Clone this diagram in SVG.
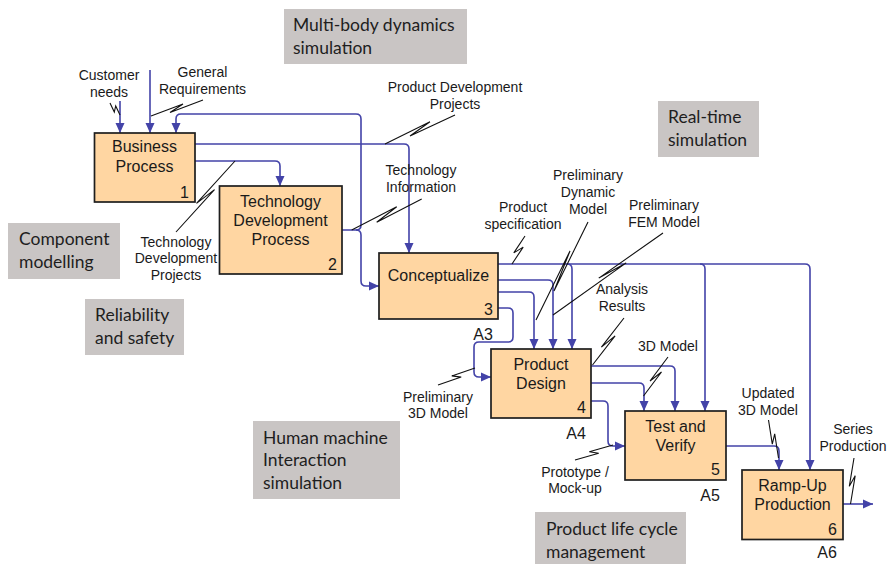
<svg xmlns="http://www.w3.org/2000/svg" width="887" height="564" viewBox="0 0 887 564">
  <defs>
    <marker id="ah" markerUnits="userSpaceOnUse" markerWidth="10" markerHeight="10" refX="10" refY="5" orient="auto" viewBox="0 0 10 10">
      <path d="M0,0.5 L10,5 L0,9.5 z" fill="#4343A8"/>
    </marker>
    <style>
      .box { fill:#FFD6A2; stroke:#1e1e1e; stroke-width:1.7; }
      .nt { font-family:"Liberation Sans", Arial, sans-serif; font-size:16px; fill:#1a1a1a; text-anchor:middle; }
      .num { font-family:"Liberation Sans", Arial, sans-serif; font-size:16px; fill:#1a1a1a; text-anchor:end; }
      .ref { font-family:"Liberation Sans", Arial, sans-serif; font-size:16px; fill:#1a1a1a; text-anchor:middle; }
      .lbl { font-family:"Liberation Sans", Arial, sans-serif; font-size:14px; fill:#1a1a1a; text-anchor:middle; }
      .gbox { fill:#C9C5C4; }
      .gt { font-family:Lato, "Open Sans", sans-serif; font-size:17.5px; fill:#1e1e1e; }
      .flow { fill:none; stroke:#4343A8; stroke-width:1.6; }
      .arr { marker-end:url(#ah); }
      .sq { fill:none; stroke:#111; stroke-width:1.1; }
    </style>
  </defs>
  <rect width="887" height="564" fill="#ffffff"/>

  <!-- grey tool annotations -->
  <g id="tool-mbd">
    <rect class="gbox" x="284" y="9" width="183" height="55"/>
    <text class="gt" x="293" y="30.5">Multi-body dynamics</text>
    <text class="gt" x="293" y="53.5">simulation</text>
  </g>
  <g id="tool-realtime">
    <rect class="gbox" x="658" y="101" width="101" height="56"/>
    <text class="gt" x="668" y="123">Real-time</text>
    <text class="gt" x="668" y="146">simulation</text>
  </g>
  <g id="tool-component">
    <rect class="gbox" x="8" y="223" width="112" height="56"/>
    <text class="gt" x="19" y="245">Component</text>
    <text class="gt" x="19" y="268">modelling</text>
  </g>
  <g id="tool-reliability">
    <rect class="gbox" x="85" y="299" width="99" height="56"/>
    <text class="gt" x="95" y="321">Reliability</text>
    <text class="gt" x="95" y="343.5">and safety</text>
  </g>
  <g id="tool-hmi">
    <rect class="gbox" x="253" y="421" width="147" height="78"/>
    <text class="gt" x="263" y="443.5">Human machine</text>
    <text class="gt" x="263" y="466">Interaction</text>
    <text class="gt" x="263" y="488.5">simulation</text>
  </g>
  <g id="tool-plm">
    <rect class="gbox" x="535" y="512" width="151" height="52"/>
    <text class="gt" x="546" y="535">Product life cycle</text>
    <text class="gt" x="546" y="557.5">management</text>
  </g>

  <!-- connectors -->
  <g id="connectors">
    <!-- inputs to Business Process -->
    <path class="flow arr" d="M120,101 V133"/>
    <path class="flow arr" d="M150,70 V133"/>
    <!-- Technology Development Process output, fed back up and forward -->
    <path class="flow" d="M342,230 H356 Q361,230 361,225"/>
    <path class="flow" d="M356,230 Q361,230 361,235"/>
    <path class="flow arr" d="M361,225 V119 Q361,114 356,114 H181 Q176,114 176,119 V133"/>
    <path class="flow arr" d="M361,235 V281 Q361,286 366,286 H379"/>
    <!-- Business Process outputs -->
    <path class="flow arr" d="M195,144 H404 Q409,144 409,149 V253"/>
    <path class="flow arr" d="M195,161 H275 Q280,161 280,166 V186"/>
    <!-- Conceptualize outputs -->
    <path class="flow arr" d="M498,264 H805 Q810,264 810,269 V470"/>
    <path class="flow arr" d="M567,264 Q572,264 572,269 V349"/>
    <path class="flow arr" d="M700,264 Q705,264 705,269 V411"/>
    <path class="flow arr" d="M498,280 H548 Q553,280 553,285 V349"/>
    <path class="flow arr" d="M498,292 H529 Q534,292 534,297 V349"/>
    <path class="flow arr" d="M498,308 H508 Q513,308 513,313 V337 Q513,342 508,342 H479 Q474,342 474,347 V372 Q474,377 479,377 H491"/>
    <!-- Product Design outputs -->
    <path class="flow arr" d="M591,366 H670 Q675,366 675,371 V411"/>
    <path class="flow arr" d="M591,383 H639 Q644,383 644,388 V411"/>
    <path class="flow arr" d="M591,401 H603 Q608,401 608,406 V441 Q608,446 613,446 H625"/>
    <!-- Test and Verify output -->
    <path class="flow arr" d="M726,446 H774 Q779,446 779,451 V470"/>
    <!-- Ramp-Up output -->
    <path class="flow arr" d="M843,504 H873"/>

    <!-- label squiggles -->
    <path class="sq" d="M110,103 L114.3,112 L115.7,106 L120,115"/>
    <path class="sq" d="M203,100 L170,112.5 L183,104 L151,116"/>
    <path class="sq" d="M176,232 L214.5,189.6 L196.5,203.4 L235,161"/>
    <path class="sq" d="M455,115 L410,136 L430,121.7 L385,144"/>
    <path class="sq" d="M421.7,199 L376.7,222.3 L396.7,206.7 L351.7,230"/>
    <path class="sq" d="M525,236 L513.8,252.9 L523.2,247.1 L512,264"/>
    <path class="sq" d="M588,222 L554,291 L570,251 L536,320"/>
    <path class="sq" d="M663,233 L598.8,278.1 L626.2,262.9 L553,315"/>
    <path class="sq" d="M624,318 L601.4,347.2 L615.1,335.9 L592.5,365"/>
    <path class="sq" d="M438,385 L461.2,377.1 L451.8,375.9 L475,368"/>
    <path class="sq" d="M668,357 L650,381 L661.5,372 L643.5,396"/>
    <path class="sq" d="M575,460 L598.7,453.3 L589.3,451.7 L613,445"/>
    <path class="sq" d="M768.5,420 L772.3,444.2 L774.7,433.8 L778.5,458"/>
    <path class="sq" d="M854,458 L849.3,486.3 L855.2,475.7 L850.5,504"/>
  </g>

  <!-- connector labels -->
  <g id="labels">
    <text class="lbl" x="109" y="80">Customer</text>
    <text class="lbl" x="109" y="97">needs</text>
    <text class="lbl" x="202.5" y="77">General</text>
    <text class="lbl" x="202.5" y="94">Requirements</text>
    <text class="lbl" x="455" y="92">Product Development</text>
    <text class="lbl" x="455" y="108.5">Projects</text>
    <text class="lbl" x="421" y="175">Technology</text>
    <text class="lbl" x="421" y="192">Information</text>
    <text class="lbl" x="176" y="246.5">Technology</text>
    <text class="lbl" x="176" y="263">Development</text>
    <text class="lbl" x="176" y="280">Projects</text>
    <text class="lbl" x="523" y="212">Product</text>
    <text class="lbl" x="523" y="229">specification</text>
    <text class="lbl" x="588" y="180">Preliminary</text>
    <text class="lbl" x="588" y="197">Dynamic</text>
    <text class="lbl" x="588" y="214">Model</text>
    <text class="lbl" x="664" y="210">Preliminary</text>
    <text class="lbl" x="664" y="227">FEM Model</text>
    <text class="lbl" x="622" y="294">Analysis</text>
    <text class="lbl" x="622" y="311">Results</text>
    <text class="lbl" x="438" y="401.5">Preliminary</text>
    <text class="lbl" x="438" y="418">3D Model</text>
    <text class="lbl" x="668" y="351">3D Model</text>
    <text class="lbl" x="575" y="476.5">Prototype /</text>
    <text class="lbl" x="575" y="493">Mock-up</text>
    <text class="lbl" x="768" y="398">Updated</text>
    <text class="lbl" x="768" y="414.5">3D Model</text>
    <text class="lbl" x="853" y="434">Series</text>
    <text class="lbl" x="853" y="451">Production</text>
  </g>

  <!-- activity nodes -->
  <g id="node-business">
    <rect class="box" x="94.5" y="133" width="100.5" height="69"/>
    <text class="nt" x="144.5" y="152">Business</text>
    <text class="nt" x="144.5" y="171.5">Process</text>
    <text class="num" x="189" y="197.5">1</text>
  </g>
  <g id="node-techdev">
    <rect class="box" x="219.5" y="186" width="122.5" height="88"/>
    <text class="nt" x="280.5" y="206.5">Technology</text>
    <text class="nt" x="280.5" y="225.5">Development</text>
    <text class="nt" x="280.5" y="244.5">Process</text>
    <text class="num" x="337" y="269.5">2</text>
  </g>
  <g id="node-conceptualize">
    <rect class="box" x="379" y="253" width="119" height="66"/>
    <text class="nt" x="438.5" y="281">Conceptualize</text>
    <text class="num" x="493" y="314.5">3</text>
    <text class="ref" x="483" y="339.5">A3</text>
  </g>
  <g id="node-design">
    <rect class="box" x="491" y="349" width="100" height="69"/>
    <text class="nt" x="541" y="369.5">Product</text>
    <text class="nt" x="541" y="389">Design</text>
    <text class="num" x="586" y="413">4</text>
    <text class="ref" x="576" y="438.5">A4</text>
  </g>
  <g id="node-test">
    <rect class="box" x="625" y="411" width="101" height="69"/>
    <text class="nt" x="675.5" y="431.5">Test and</text>
    <text class="nt" x="675.5" y="451">Verify</text>
    <text class="num" x="720" y="474.5">5</text>
    <text class="ref" x="710" y="500.5">A5</text>
  </g>
  <g id="node-rampup">
    <rect class="box" x="742" y="470" width="101" height="69.5"/>
    <text class="nt" x="792.5" y="490.5">Ramp-Up</text>
    <text class="nt" x="792.5" y="510">Production</text>
    <text class="num" x="837" y="535">6</text>
    <text class="ref" x="827" y="558">A6</text>
  </g>
</svg>
